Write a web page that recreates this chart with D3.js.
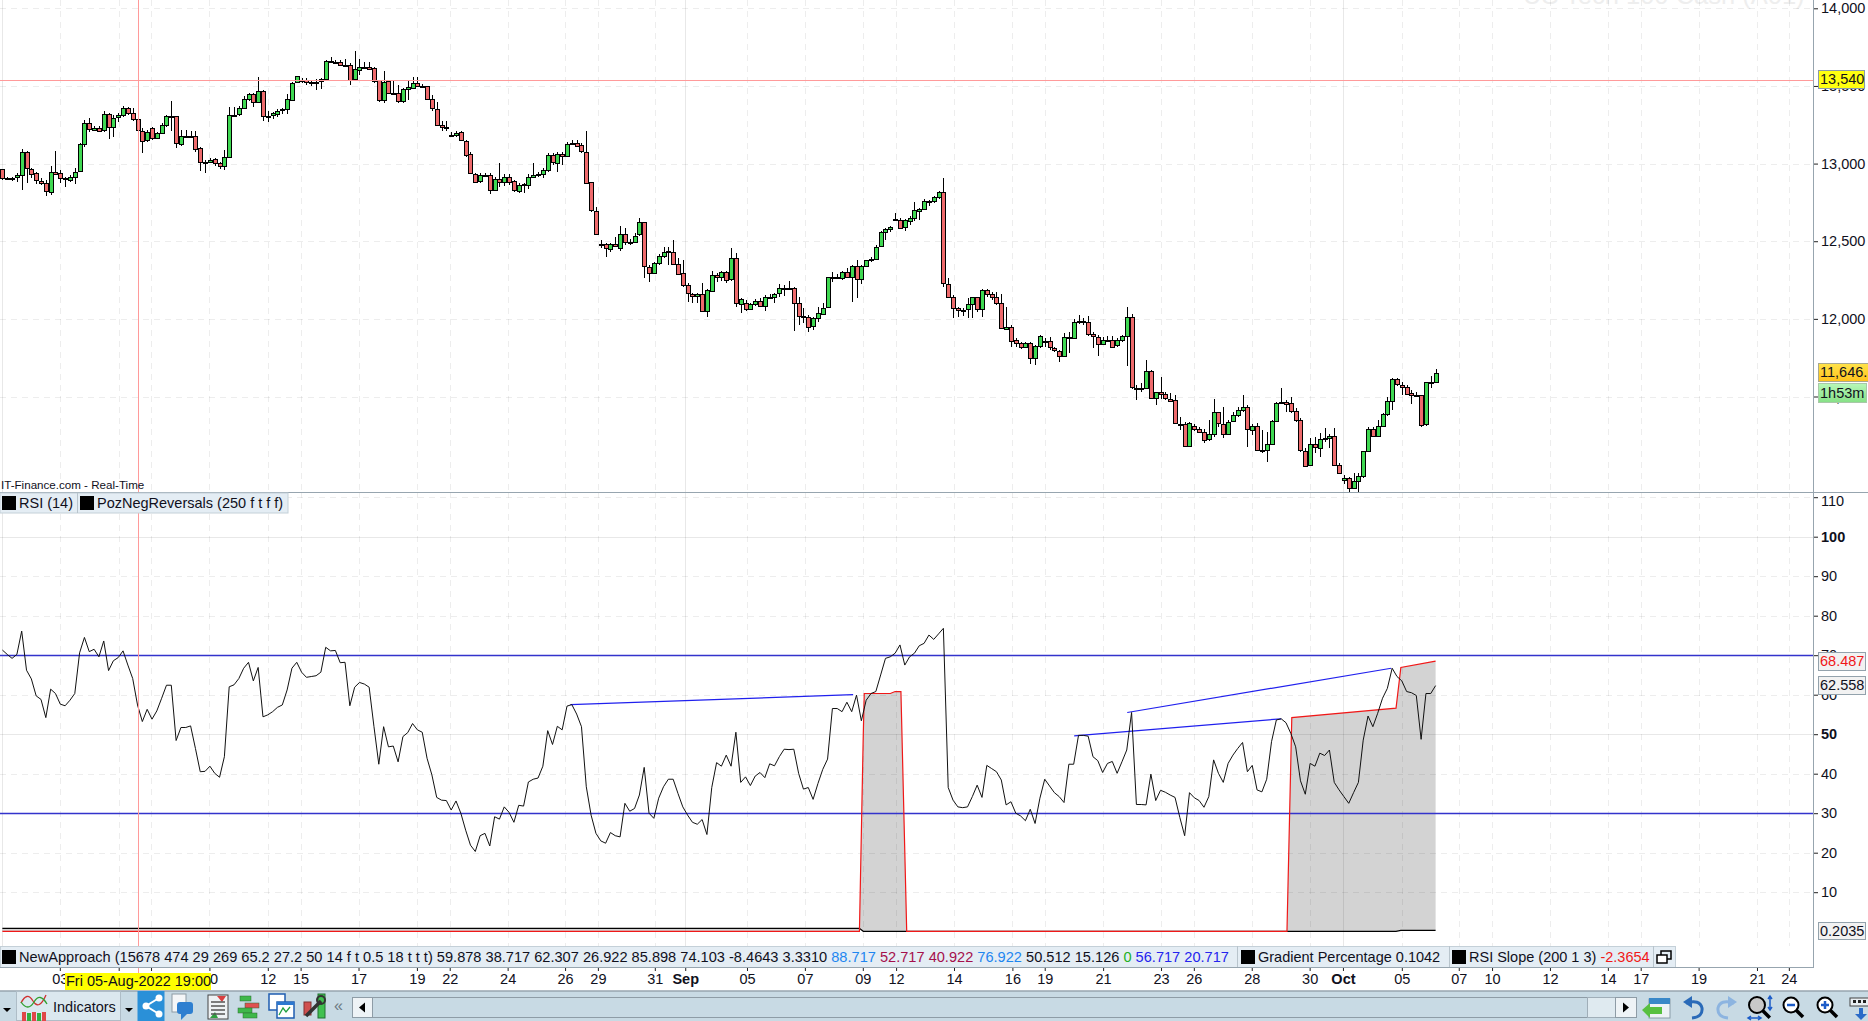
<!DOCTYPE html>
<html>
<head>
<meta charset="utf-8">
<script src="https://cdnjs.cloudflare.com/ajax/libs/d3/7.8.5/d3.min.js"></script>
<style>
  html, body { margin: 0; padding: 0; background: #fff; overflow: hidden; }
  svg { display: block; font-family: "Liberation Sans", Arial, sans-serif; }
  text { fill: #10101c; }
  .axis path { display: none; }
  .axis line { stroke: #222; }
  .grid { stroke: rgba(0,0,0,0.07); stroke-width: 1; stroke-dasharray: 6,5; shape-rendering: crispEdges; }
  .grid.solid { stroke-dasharray: none; stroke: rgba(0,0,0,0.09); }
</style>
</head>
<body>
<svg width="1868" height="1021"></svg>
<script>
// one value per hourly bar
const opens = [12963,12905,12909,12909,12924,13072,12967,12937,12890,12877,12821,12948,12937,12905,12898,12916,12948,13124,13259,13220,13231,13216,13317,13231,13298,13311,13356,13324,13285,13212,13147,13227,13162,13195,13246,13304,13304,13130,13180,13180,13180,13098,13008,13012,13027,13001,12982,13040,13311,13317,13356,13414,13446,13394,13465,13304,13311,13324,13341,13349,13414,13523,13540,13536,13525,13523,13527,13543,13658,13654,13656,13635,13637,13543,13607,13624,13624,13613,13536,13407,13530,13452,13452,13399,13478,13491,13521,13502,13497,13414,13351,13246,13233,13180,13184,13201,13147,13059,12935,12885,12924,12928,12834,12903,12885,12916,12885,12828,12864,12864,12916,12928,12933,12956,13053,13008,13064,13051,13128,13135,13117,13077,12879,12697,12484,12480,12454,12484,
  12454,12544,12492,12497,12544,12621,12336,12299,12361,12406,12432,12432,12355,12293,12215,12162,12147,12157,12048,12183,12284,12269,12303,12254,12389,12099,12104,12067,12099,12117,12086,12142,12140,12162,12196,12192,12196,12099,12016,12013,11951,12003,12035,12071,12267,12267,12260,12299,12269,12338,12254,12338,12376,12383,12464,12557,12576,12638,12638,12589,12634,12647,12698,12709,12761,12759,12782,12814,12222,12138,12067,12054,12059,12093,12138,12059,12183,12157,12138,12099,11938,11949,11861,11842,11816,11842,11745,11822,11857,11855,11810,11790,11758,11880,11880,11981,11983,11979,11900,11885,11842,11867,11867,11827,11861,11887,12009,11556,11552,11554,11661,11487,11526,11513,11487,
  11475,11325,11322,11181,11312,11290,11273,11224,11256,11398,11325,11262,11338,11378,11410,11432,11284,11310,11155,11151,11192,11340,11456,11466,11456,11406,11346,11151,11056,11192,11172,11228,11232,11245,11056,10960,10973,10908,10953,10985,11146,11288,11243,11307,11385,11468,11610,11576,11563,11520,11509,11507,11318,11591,11591];
const closes = [12905,12909,12909,12924,13072,12967,12937,12890,12877,12825,12948,12937,12905,12896,12916,12948,13124,13259,13220,13231,13214,13317,13231,13291,13311,13356,13324,13285,13212,13147,13201,13162,13195,13246,13304,13304,13130,13180,13180,13180,13098,13008,13012,13025,13001,12982,13040,13311,13315,13356,13414,13446,13394,13465,13304,13309,13324,13341,13349,13414,13521,13562,13536,13525,13523,13527,13543,13658,13654,13656,13635,13637,13543,13607,13624,13622,13613,13527,13407,13523,13452,13454,13399,13478,13491,13521,13504,13497,13414,13354,13246,13233,13235,13184,13199,13147,13059,12935,12885,12924,12928,12832,12903,12885,12916,12885,12828,12864,12866,12916,12928,12933,12956,13053,13008,13064,13051,13128,13135,13117,13077,12877,12697,12551,12480,12454,12484,12469,
  12544,12492,12497,12535,12621,12336,12299,12361,12406,12432,12434,12355,12293,12215,12162,12147,12157,12048,12183,12284,12269,12303,12254,12389,12099,12129,12067,12097,12117,12086,12142,12142,12162,12196,12192,12196,12099,12016,12013,11951,12003,12035,12071,12267,12267,12260,12299,12269,12338,12254,12338,12376,12383,12460,12557,12578,12589,12640,12589,12634,12651,12698,12709,12761,12756,12782,12814,12228,12138,12067,12054,12059,12093,12138,12059,12183,12157,12138,12099,11938,11949,11861,11842,11816,11842,11745,11822,11887,11852,11816,11797,11758,11880,11882,11981,11983,11979,11900,11885,11842,11867,11867,11820,11861,11887,12009,11556,11552,11556,11661,11487,11526,11511,11487,11475,
  11325,11320,11179,11331,11290,11273,11224,11256,11398,11325,11262,11338,11378,11410,11432,11288,11310,11155,11157,11192,11340,11456,11464,11456,11406,11346,11151,11056,11192,11172,11228,11232,11245,11056,11005,10973,10908,10953,10985,11146,11288,11243,11307,11385,11468,11610,11576,11563,11520,11509,11505,11314,11591,11591,11649];
const highs = [12963,12916,12913,12941,13092,13083,12974,12948,12905,12894,12984,13081,12958,12916,12926,12969,13130,13281,13291,13242,13242,13336,13324,13313,13324,13371,13362,13356,13313,13227,13216,13238,13205,13263,13313,13401,13304,13216,13216,13210,13212,13109,13023,13034,13034,13012,13087,13362,13362,13371,13435,13457,13457,13555,13474,13339,13334,13351,13356,13448,13527,13564,13553,13551,13538,13543,13549,13667,13684,13667,13667,13671,13646,13725,13671,13656,13652,13624,13538,13596,13538,13538,13506,13485,13538,13555,13555,13512,13502,13442,13399,13276,13276,13205,13210,13210,13152,13077,12941,12937,12941,12937,12916,13001,12931,12933,12894,12873,12877,12931,13001,12948,12969,13070,13070,13077,13077,13141,13152,13152,13130,13210,12883,12718,12508,12490,12490,12525,
  12597,12582,12512,12555,12647,12625,12346,12368,12417,12460,12460,12507,12389,12378,12228,12168,12168,12228,12190,12310,12297,12310,12310,12454,12426,12136,12121,12104,12127,12132,12153,12160,12168,12222,12217,12241,12202,12138,12067,12024,12013,12078,12099,12271,12303,12288,12308,12325,12346,12378,12346,12378,12396,12475,12565,12587,12597,12679,12647,12643,12662,12754,12716,12769,12765,12791,12825,12905,12260,12153,12074,12067,12132,12142,12142,12190,12190,12175,12175,12157,12078,11960,11874,11852,11852,11852,11831,11895,11874,11885,11820,11799,11910,11917,11996,12024,12003,12020,11917,11895,11880,11889,11889,11874,11895,12074,12031,11573,11584,11734,11670,11530,11627,11530,11520,
  11509,11365,11338,11338,11322,11305,11288,11348,11481,11402,11434,11348,11402,11434,11509,11445,11322,11327,11284,11273,11348,11466,11552,11477,11499,11423,11359,11166,11230,11241,11262,11299,11258,11299,11069,10994,10979,11005,11009,11151,11305,11305,11348,11391,11499,11617,11621,11595,11574,11541,11531,11509,11595,11632,11675];
const lows = [12894,12894,12888,12883,12830,12877,12905,12868,12862,12793,12797,12937,12877,12851,12883,12868,12944,13109,13205,13210,13205,13205,13158,13173,13270,13302,13313,13276,13087,13070,13141,13152,13156,13190,13238,13212,13102,13113,13173,13169,13077,12954,12941,13001,12984,12963,12959,13034,13302,13306,13349,13405,13366,13388,13276,13270,13285,13302,13319,13319,13409,13517,13521,13508,13500,13474,13478,13538,13646,13646,13628,13630,13508,13538,13570,13613,13607,13517,13399,13388,13446,13446,13392,13388,13409,13485,13491,13491,13409,13341,13242,13212,13212,13169,13173,13143,13044,12933,12873,12877,12916,12804,12830,12851,12855,12862,12817,12813,12813,12836,12905,12916,12905,12948,12991,12948,12991,13044,13120,13109,13066,12873,12690,12546,12454,12396,12433,12460,
  12439,12475,12475,12486,12533,12260,12239,12293,12346,12389,12346,12346,12282,12207,12108,12104,12099,12044,12013,12179,12239,12245,12228,12245,12078,12035,12052,12056,12082,12074,12052,12132,12104,12142,12149,12185,11923,11960,11971,11917,11928,11981,12031,12067,12239,12254,12250,12260,12110,12132,12224,12331,12368,12378,12460,12507,12561,12632,12582,12567,12604,12632,12636,12705,12726,12748,12769,12207,12132,12003,12013,12020,12003,12003,12046,12013,12142,12121,12089,11934,11938,11820,11820,11805,11810,11709,11706,11810,11820,11799,11788,11722,11752,11777,11874,11966,11960,11891,11810,11762,11831,11859,11816,11820,11852,11696,11550,11477,11530,11550,11481,11445,11487,11477,11466,
  11322,11284,11172,11176,11280,11262,11198,11215,11241,11305,11230,11252,11333,11370,11402,11176,11252,11151,11134,11080,11187,11333,11451,11402,11395,11338,11144,11043,11052,11134,11112,11209,11166,11052,10998,10936,10887,10904,10887,10973,11142,11237,11237,11301,11374,11413,11567,11509,11509,11451,11499,11305,11310,11552,11584];

const rsi = [71.3,70.2,69.2,70.2,76.1,66.2,64.0,59.7,58.8,54.2,61.4,60.3,57.6,57.2,58.6,60.3,70.6,74.5,70.9,71.5,69.6,73.6,66.1,68.6,69.4,71.1,67.5,64.1,57.4,53.2,56.3,53.8,55.9,59.1,62.4,62.4,48.4,51.7,51.7,52.1,46.4,40.5,40.6,41.9,40.1,39.1,44.3,62.0,62.5,64.1,66.7,68.2,63.5,66.9,54.4,54.9,55.7,56.8,57.4,61.2,66.7,68.2,65.7,64.4,64.6,64.8,65.7,72.0,71.1,71.2,68.1,68.2,57.2,61.9,63.1,62.7,61.9,51.9,42.4,51.9,46.8,47.0,43.0,49.4,50.4,52.7,51.1,50.5,43.9,39.7,34.0,33.3,33.2,30.8,33.1,30.0,25.7,21.9,20.3,24.3,24.9,21.7,29.1,28.5,31.6,30.2,27.7,32.0,31.8,37.9,38.6,38.9,41.9,50.9,47.4,52.0,51.1,57.1,57.5,55.1,51.9,36.7,29.5,24.9,23.0,22.4,25.1,24.3,
  24.0,32.5,30.5,31.2,34.6,41.6,30.0,28.7,33.8,36.7,38.6,38.6,35.0,31.6,29.5,27.7,27.2,28.4,24.6,36.5,42.8,41.9,44.7,41.9,50.5,37.8,39.2,37.0,39.4,40.3,39.0,42.5,42.0,44.3,46.2,46.1,46.2,40.1,36.1,36.5,33.5,37.5,41.1,43.7,56.5,56.5,55.7,58.1,55.7,59.9,53.4,58.6,60.3,60.8,65.0,69.2,69.6,70.5,72.6,67.5,69.6,70.5,72.4,73.0,75.1,74.0,75.4,76.8,36.5,33.3,31.6,31.4,31.6,34.2,37.1,34.0,42.1,41.3,40.5,38.4,32.1,32.9,30.0,29.3,28.1,31.0,27.4,33.8,38.6,36.9,35.2,34.2,32.7,42.4,42.4,49.7,49.7,49.5,44.3,43.3,40.3,42.6,43.1,40.1,43.0,46.0,55.5,32.2,32.2,32.1,39.9,33.2,35.8,35.3,34.6,34.0,28.9,24.3,35.2,33.9,33.2,31.5,34.2,43.5,40.1,37.8,42.6,44.7,46.4,
  47.9,40.5,42.1,35.9,35.4,38.6,48.1,53.6,53.9,52.9,50.2,46.8,38.2,34.8,42.6,41.9,45.2,44.6,46.0,37.8,35.9,34.2,32.5,35.2,37.8,48.5,54.6,51.9,55.3,59.1,61.6,66.7,64.6,63.5,60.8,60.5,59.8,48.7,60.3,60.3,62.3];

// PozNegReversals band, corners as read
const bandBars = [0,177.6,178.4,178.6,184,185,186.2,187.4,266.2,267.2,288.8,289.8,297];
const bandUpper = [0.1,0.1,50,60.3,60.3,60.8,60.8,0.1,0.1,54.2,56.6,66.9,68.5];
const bandLower = [0.85,0.85,0.1,0.1,0.1,0.1,0.1,0.1,0.1,0.1,0.1,0.35,0.35];

// divergence segments on the RSI
const divStartBars = [117.7,222.1,233.1];
const divStartValues = [57.5,49.6,55.5];
const divEndBars = [176.3,265,287.8];
const divEndValues = [60,53.9,66.7];

const priceTicks = [14000,13500,13000,12500,12000,11500];
const rsiTicks = [110,100,90,80,70,60,50,40,30,20,10];
const rsiBold = [100,50];
const rsiLevels = [70,30];

const dateBars = [11.9,24.1,30.8,42.9,55,61.8,73.8,85.9,92.7,104.7,116.6,123.4,135.2,141.5,154.3,166.3,178.3,185.2,197.2,209.3,216,228.1,240.1,246.9,258.9,270.9,277.8,290,301.8,308.7,320.7,332.7,339.5,351.5,363.6,370.2];
const dateLabels = ["03","05","08","10","12","15","17","19","22","24","26","29","31","Sep","05","07","09","12","14","16","19","21","23","26","28","30","Oct","05","07","10","12","14","17","19","21","24"];
const monthLabels = ["Sep","Oct"];
const solidBars = [0,141.5,277.8];
const crosshairBar = 28;
const crosshairPrice = 13540;

const svg = d3.select("svg");
const width = +svg.attr("width");

const axisX = 1813;
const pane1 = { top: 0, bottom: 492 };
const pane2 = { top: 492, bottom: 946 };
const rowTop = 946, axisRow = 967, toolbarTop = 991;

const xScale = d3.scaleLinear().domain([0, opens.length - 1]).range([2.4, 1435.6]);
const yPrice = d3.scaleLinear().domain([11500, 14000]).range([396.5, 8.3]);
const yRsi = d3.scaleLinear().domain([0, 100]).range([931.7, 536.7]);

const fontSize = 14.5;
const green = "#3fd852", red = "#ee6a6c";

// grid comes after the grey band so it shows through
const band = d3.area()
  .x(d => xScale(d.bar))
  .y0(d => yRsi(d.lower))
  .y1(d => yRsi(d.upper));
const bandData = bandBars.map((bar, i) => ({ bar, upper: bandUpper[i], lower: bandLower[i] }));

svg.append("path").attr("d", band(bandData)).attr("fill", "#d3d3d3");

// watermark, cut by the top edge
svg.append("text")
  .attr("x", 1523).attr("y", 4)
  .attr("font-size", 25.5)
  .style("fill", "#eeeeee")
  .text("US Tech 100 Cash (A01)");

// grid
const gridG = svg.append("g");
const inRange = (bar) => !solidBars.includes(bar);
[pane1, pane2].forEach(p => {
  gridG.selectAll(null)
    .data(dateBars.filter(inRange).filter(b => xScale(b) < axisX))
    .enter().append("line")
    .attr("class", "grid")
    .attr("x1", d => Math.round(xScale(d)) + 0.5)
    .attr("x2", d => Math.round(xScale(d)) + 0.5)
    .attr("y1", p.top).attr("y2", p.bottom);
  gridG.selectAll(null)
    .data(solidBars)
    .enter().append("line")
    .attr("class", "grid solid")
    .attr("x1", d => Math.round(xScale(d)) + 0.5)
    .attr("x2", d => Math.round(xScale(d)) + 0.5)
    .attr("y1", p.top).attr("y2", p.bottom);
});
gridG.selectAll(null).data(priceTicks).enter().append("line")
  .attr("class", "grid")
  .attr("x1", 0).attr("x2", axisX)
  .attr("y1", d => Math.round(yPrice(d)) + 0.5)
  .attr("y2", d => Math.round(yPrice(d)) + 0.5);
gridG.selectAll(null).data(rsiTicks).enter().append("line")
  .attr("class", d => rsiBold.includes(d) ? "grid solid" : "grid")
  .attr("x1", 0).attr("x2", axisX)
  .attr("y1", d => Math.round(yRsi(d)) + 0.5)
  .attr("y2", d => Math.round(yRsi(d)) + 0.5);

// candles
const clip = svg.append("clipPath").attr("id", "pricePane");
clip.append("rect").attr("x", 0).attr("y", 0).attr("width", axisX).attr("height", pane1.bottom);

const candles = svg.append("g").attr("clip-path", "url(#pricePane)")
  .selectAll("g")
  .data(opens.map((o, i) => ({ i, o, c: closes[i], h: highs[i], l: lows[i] })))
  .enter().append("g");

candles.append("line")
  .attr("x1", d => Math.round(xScale(d.i)) + 0.5)
  .attr("x2", d => Math.round(xScale(d.i)) + 0.5)
  .attr("y1", d => yPrice(d.h))
  .attr("y2", d => yPrice(d.l))
  .attr("stroke", "#000")
  .attr("shape-rendering", "crispEdges");

candles.append("rect")
  .attr("x", d => Math.round(xScale(d.i)) - 1.5)
  .attr("width", 4)
  .attr("y", d => Math.round(yPrice(Math.max(d.o, d.c))) + 0.5)
  .attr("height", d => Math.max(1, Math.round(Math.abs(yPrice(d.o) - yPrice(d.c)))))
  .attr("fill", d => d.c >= d.o ? green : red)
  .attr("stroke", "#000")
  .attr("stroke-width", 1)
  .attr("shape-rendering", "crispEdges");

// RSI levels
svg.selectAll(null).data(rsiLevels).enter().append("line")
  .attr("x1", 0).attr("x2", axisX)
  .attr("y1", d => Math.round(yRsi(d)) + 0.5)
  .attr("y2", d => Math.round(yRsi(d)) + 0.5)
  .attr("stroke", "#3333cc").attr("stroke-width", 1.3);

// band outlines
const upperLine = d3.line().x(d => xScale(d.bar)).y(d => yRsi(d.upper));
const lowerLine = d3.line().x(d => xScale(d.bar)).y(d => yRsi(d.lower));
svg.append("path").attr("d", lowerLine(bandData)).attr("fill", "none").attr("stroke", "#000").attr("stroke-width", 1.2);
svg.append("path").attr("d", upperLine(bandData)).attr("fill", "none").attr("stroke", "#f01818").attr("stroke-width", 1.2);

// divergences
svg.selectAll(null).data(divStartBars).enter().append("line")
  .attr("x1", d => xScale(d))
  .attr("y1", (d, i) => yRsi(divStartValues[i]))
  .attr("x2", (d, i) => xScale(divEndBars[i]))
  .attr("y2", (d, i) => yRsi(divEndValues[i]))
  .attr("stroke", "#2020ee").attr("stroke-width", 1.2);

// RSI line
const rsiLine = d3.line().x((d, i) => xScale(i)).y(d => yRsi(d));
svg.append("path").attr("d", rsiLine(rsi)).attr("fill", "none").attr("stroke", "#111").attr("stroke-width", 1);

// crosshair
svg.append("line")
  .attr("x1", 0).attr("x2", axisX)
  .attr("y1", Math.round(yPrice(crosshairPrice)) + 0.5)
  .attr("y2", Math.round(yPrice(crosshairPrice)) + 0.5)
  .attr("stroke", "#ff9a9a");
svg.append("line")
  .attr("x1", Math.round(xScale(crosshairBar)) + 0.5)
  .attr("x2", Math.round(xScale(crosshairBar)) + 0.5)
  .attr("y1", 0).attr("y2", axisRow + 6)
  .attr("stroke", "#ff9a9a");

// right axes
const priceAxis = d3.axisRight(yPrice)
  .tickValues(priceTicks)
  .tickSize(5).tickPadding(3)
  .tickFormat(d3.format(","));
const priceAxisG = svg.append("g").attr("class", "axis")
  .attr("transform", `translate(${axisX},0)`).call(priceAxis);
priceAxisG.selectAll("text").attr("font-size", fontSize);

const rsiAxis = d3.axisRight(yRsi)
  .tickValues(rsiTicks)
  .tickSize(5).tickPadding(3);
const rsiAxisG = svg.append("g").attr("class", "axis")
  .attr("transform", `translate(${axisX},0)`).call(rsiAxis);
rsiAxisG.selectAll("text")
  .attr("font-size", fontSize)
  .attr("font-weight", d => rsiBold.includes(d) ? "bold" : null)
  .attr("y", d => d === 110 ? 4 : null);

// IT-Finance line at the bottom of the price pane
svg.append("text").attr("x", 1).attr("y", 489).attr("font-size", 11.6).text("IT-Finance.com - Real-Time");

// pane frames
const frame = "#97a5af";
svg.append("line").attr("x1", 0).attr("x2", width).attr("y1", 492.5).attr("y2", 492.5).attr("stroke", frame);
svg.append("line").attr("x1", axisX + 0.5).attr("x2", axisX + 0.5).attr("y1", 0).attr("y2", axisRow).attr("stroke", frame);

// indicator legends
const legendFill = "#e4edf4";
const square = (x, y) => svg.append("rect").attr("x", x).attr("y", y).attr("width", 14).attr("height", 14).attr("fill", "#000");

svg.append("rect").attr("x", 0).attr("y", 493).attr("width", 288).attr("height", 20).attr("fill", legendFill).attr("stroke", "#c4d0d8");
svg.append("line").attr("x1", 77.5).attr("x2", 77.5).attr("y1", 493).attr("y2", 513).attr("stroke", "#b8c4cc");
square(2, 496); square(80, 496);
svg.append("text").attr("x", 19).attr("y", 508).attr("font-size", fontSize).text("RSI (14)");
svg.append("text").attr("x", 97).attr("y", 508).attr("font-size", fontSize).text("PozNegReversals (250 f t f f)");

// lower legend row
svg.append("rect").attr("x", 0).attr("y", rowTop).attr("width", axisX).attr("height", axisRow - rowTop).attr("fill", "#fff");
svg.append("rect").attr("x", 0.5).attr("y", rowTop + 0.5).attr("width", 1675).attr("height", axisRow - rowTop).attr("fill", legendFill).attr("stroke", "#c4d0d8");
square(2, rowTop + 4); square(1241, rowTop + 4); square(1452, rowTop + 4);
[1237.5, 1449.5, 1653.5].forEach(x => svg.append("line").attr("x1", x).attr("x2", x).attr("y1", rowTop).attr("y2", axisRow).attr("stroke", "#b8c4cc"));

const legendParts = [
  ["NewApproach (15678 474 29 269 65.2 27.2 50 14 f t 0.5 18 t t t) 59.878 38.717 62.307 26.922 85.898 74.103 -8.4643 3.3310 ", "#10101c"],
  ["88.717 ", "#1e86f0"],
  ["52.717 40.922 ", "#a5104c"],
  ["76.922 ", "#1e86f0"],
  ["50.512 15.126 ", "#10101c"],
  ["0 ", "#22b022"],
  ["56.717 20.717", "#2424ee"]
];
const legendText = svg.append("text").attr("x", 19).attr("y", rowTop + 16).attr("font-size", 14.6).attr("xml:space", "preserve").style("white-space", "pre");
legendParts.forEach(p => legendText.append("tspan").style("fill", p[1]).text(p[0]));
svg.append("text").attr("x", 1258).attr("y", rowTop + 16).attr("font-size", fontSize).text("Gradient Percentage 0.1042");
const slopeText = svg.append("text").attr("x", 1469).attr("y", rowTop + 16).attr("font-size", fontSize).style("white-space", "pre");
slopeText.append("tspan").text("RSI Slope (200 1 3) ");
slopeText.append("tspan").style("fill", "#f01818").text("-2.3654");
// little restore icon
svg.append("rect").attr("x", 1661).attr("y", rowTop + 5).attr("width", 10).attr("height", 8).attr("fill", "#e4edf4").attr("stroke", "#000").attr("stroke-width", 1.5);
svg.append("rect").attr("x", 1657).attr("y", rowTop + 9).attr("width", 10).attr("height", 8).attr("fill", "#fff").attr("stroke", "#000").attr("stroke-width", 1.5);

// bottom date axis
const dateAxis = d3.axisBottom(xScale)
  .tickValues(dateBars)
  .tickSize(4).tickPadding(3)
  .tickFormat((d, i) => dateLabels[i]);
const dateAxisG = svg.append("g").attr("class", "axis")
  .attr("transform", `translate(0,${axisRow})`).call(dateAxis);
dateAxisG.selectAll("line").attr("stroke", "#97a5af");
dateAxisG.selectAll("text")
  .attr("font-size", fontSize)
  .attr("font-weight", (d, i) => monthLabels.includes(dateLabels[i]) ? "bold" : null);
svg.append("line").attr("x1", 0).attr("x2", axisX + 1).attr("y1", axisRow + 0.5).attr("y2", axisRow + 0.5).attr("stroke", frame);

// value tags on the right
const tag = (y0, y1, x1, fill, colour, label, weightStroke) => {
  svg.append("rect")
    .attr("x", 1818.5).attr("y", y0 + 0.5)
    .attr("width", x1 - 1818).attr("height", y1 - y0)
    .attr("fill", fill).attr("stroke", weightStroke);
  svg.append("text")
    .attr("x", 1820).attr("y", (y0 + y1) / 2 + 5.3)
    .attr("font-size", fontSize)
    .style("fill", colour)
    .text(label);
};
const defs = svg.append("defs");
const grad = (id, a, b) => {
  const g = defs.append("linearGradient").attr("id", id).attr("x1", 0).attr("x2", 0).attr("y1", 0).attr("y2", 1);
  g.append("stop").attr("offset", 0).attr("stop-color", a);
  g.append("stop").attr("offset", 1).attr("stop-color", b);
};
grad("gold", "#ffe34a", "#ffc21c");
grad("mint", "#b8f8b8", "#86e086");
tag(70, 88, 1864, "#ffff10", "#10101c", "13,540", "#8a9aa8");
tag(363, 381, 1869, "url(#gold)", "#10101c", "11,646.", "#a8a890");
tag(383, 402, 1866, "url(#mint)", "#10101c", "1h53m", "#a8c8a8");
tag(652, 670, 1865, "#f2f2f2", "#f01818", "68.487", "#93a2ac");
tag(676, 694, 1865, "#f2f2f2", "#10101c", "62.558", "#93a2ac");
tag(922, 939, 1865, "#f2f2f2", "#10101c", "0.2035", "#93a2ac");

// date tooltip
svg.append("rect").attr("x", 65).attr("y", 973).attr("width", 146).attr("height", 17).attr("fill", "#ffff00");
svg.append("text").attr("x", 66).attr("y", 986).attr("font-size", fontSize).text("Fri 05-Aug-2022 19:00");

// toolbar
svg.append("rect").attr("x", 0).attr("y", toolbarTop).attr("width", width).attr("height", 1021 - toolbarTop).attr("fill", "#c8dae4");
svg.append("line").attr("x1", 0).attr("x2", width).attr("y1", toolbarTop).attr("y2", toolbarTop).attr("stroke", "#97a5af").attr("stroke-width", 1.5);

const tri = (x, y, dir) => {
  const pts = dir === "down" ? `${x - 4},${y} ${x + 4},${y} ${x},${y + 4}`
    : dir === "left" ? `${x + 3},${y - 5} ${x + 3},${y + 5} ${x - 3},${y}`
    : `${x - 3},${y - 5} ${x - 3},${y + 5} ${x + 3},${y}`;
  svg.append("polygon").attr("points", pts).attr("fill", "#000");
};
tri(7, 1008, "down");
tri(129, 1008, "down");
svg.append("rect").attr("x", 16.5).attr("y", 991.5).attr("width", 104).attr("height", 29).attr("fill", "#dbe8ef").attr("stroke", "#aebdc7");
svg.append("text").attr("x", 53).attr("y", 1012).attr("font-size", fontSize).text("Indicators");
// indicators icon
svg.append("path").attr("d", "M21 1003 q6 -12 12 -2 t13 -6").attr("fill", "none").attr("stroke", "#d03030").attr("stroke-width", 1.3);
svg.append("path").attr("d", "M21 1002 q7 10 13 0 t13 2").attr("fill", "none").attr("stroke", "#30a030").attr("stroke-width", 1.3);
[0, 1, 2, 3, 4].forEach(k => svg.append("rect").attr("x", 22 + k * 5).attr("y", 1012 + (k % 2) * 1).attr("width", 4).attr("height", 9).attr("fill", k % 2 ? "#30b040" : "#e04848"));

// share button
svg.append("rect").attr("x", 137.5).attr("y", 991).attr("width", 27).attr("height", 30).attr("fill", "#2a90d8");
svg.append("path").attr("d", "M159 998 L146 1006 L159 1014").attr("fill", "none").attr("stroke", "#fff").attr("stroke-width", 2);
[[159, 998], [146, 1006], [159, 1014]].forEach(c => svg.append("circle").attr("cx", c[0]).attr("cy", c[1]).attr("r", 3.5).attr("fill", "#fff"));

// comment icon
svg.append("rect").attr("x", 172).attr("y", 994).attr("width", 14).attr("height", 18).attr("fill", "#f4f6f8").attr("stroke", "#8c9aa4");
svg.append("rect").attr("x", 177).attr("y", 1002).attr("width", 16).attr("height", 12).attr("rx", 3).attr("fill", "#2e7fd0");
svg.append("path").attr("d", "M181 1014 l0 6 l6 -6 z").attr("fill", "#2e7fd0");
// report icon
svg.append("rect").attr("x", 208).attr("y", 995).attr("width", 20).attr("height", 24).attr("fill", "#eef2f4").attr("stroke", "#444");
svg.append("path").attr("d", "M217 996 l9 0 l-4 6 z").attr("fill", "#d84040");
svg.append("path").attr("d", "M210 1018 l5 -6 l3 6 z").attr("fill", "#30a040");
[1002, 1006, 1010, 1014].forEach(y => svg.append("line").attr("x1", 211).attr("x2", 225).attr("y1", y).attr("y2", y).attr("stroke", "#555").attr("stroke-width", 1.5));
// depth icon
[[240, 996, 11, "#3fb84a"], [245, 1003, 14, "#e05050"], [238, 1008, 14, "#3fb84a"], [243, 1013, 14, "#3fb84a"]].forEach(r =>
  svg.append("rect").attr("x", r[0]).attr("y", r[1]).attr("width", r[2]).attr("height", 5).attr("fill", r[3]).attr("stroke", "#2c6c30").attr("stroke-width", 0.5));
// windows icon
svg.append("rect").attr("x", 269).attr("y", 994).attr("width", 16).attr("height", 16).attr("fill", "#fff").attr("stroke", "#1e5cb0").attr("stroke-width", 1.5);
svg.append("rect").attr("x", 277).attr("y", 1002).attr("width", 17).attr("height", 16).attr("fill", "#fff").attr("stroke", "#1e5cb0").attr("stroke-width", 1.5);
svg.append("rect").attr("x", 277).attr("y", 1002).attr("width", 17).attr("height", 3).attr("fill", "#2c78d0");
svg.append("path").attr("d", "M279 1015 l4 -7 l3 4 l4 -5").attr("fill", "none").attr("stroke", "#20a040").attr("stroke-width", 1.3);
// wrench icon
svg.append("rect").attr("x", 304).attr("y", 1002).attr("width", 7).attr("height", 13).attr("fill", "#d05050").attr("stroke", "#803030");
svg.append("rect").attr("x", 318).attr("y", 994).attr("width", 7).attr("height", 24).attr("fill", "#40c050").attr("stroke", "#207030");
svg.append("path").attr("d", "M306 1016 L321 1001").attr("stroke", "#333").attr("stroke-width", 3.5);
svg.append("circle").attr("cx", 321).attr("cy", 1000).attr("r", 4).attr("fill", "none").attr("stroke", "#333").attr("stroke-width", 2);

svg.append("text").attr("x", 334).attr("y", 1011).attr("font-size", 16).style("fill", "#6c7a84").text("«");

// scrollbar
svg.append("rect").attr("x", 352.5).attr("y", 997.5).attr("width", 1284).attr("height", 20).attr("fill", "#c8dae4").attr("stroke", "#8e9ca6");
svg.append("rect").attr("x", 352.5).attr("y", 997.5).attr("width", 20).attr("height", 20).attr("fill", "#eef3f6").attr("stroke", "#8e9ca6");
svg.append("rect").attr("x", 1587.5).attr("y", 997.5).attr("width", 28).attr("height", 20).attr("fill", "#dfeaf0").attr("stroke", "#a0aeb8");
svg.append("rect").attr("x", 1615.5).attr("y", 997.5).attr("width", 21).attr("height", 20).attr("fill", "#eef3f6").attr("stroke", "#8e9ca6");
tri(362, 1007.5, "left");
tri(1626, 1007.5, "right");

// calendar
svg.append("rect").attr("x", 1649).attr("y", 999).attr("width", 21).attr("height", 19).attr("fill", "#eef2f6").attr("stroke", "#8a9ca8");
svg.append("rect").attr("x", 1649).attr("y", 998).attr("width", 21).attr("height", 6).attr("fill", "#3a88c8");
svg.append("path").attr("d", "M1642 1010 l8 -7 l0 4 l12 0 l0 7 l-12 0 l0 4 z").attr("fill", "#58c040");
// undo / redo
svg.append("path").attr("d", "M1686 1003 q14 -4 16 5 q1 9 -10 10").attr("fill", "none").attr("stroke", "#2a6ab8").attr("stroke-width", 3);
svg.append("path").attr("d", "M1683 1002 l9 -6 l0 12 z").attr("fill", "#2a6ab8");
svg.append("path").attr("d", "M1734 1003 q-14 -4 -16 5 q-1 9 10 10").attr("fill", "none").attr("stroke", "#8cb4e0").attr("stroke-width", 3);
svg.append("path").attr("d", "M1737 1002 l-9 -6 l0 12 z").attr("fill", "#8cb4e0");
// zoom icons
const lens = (cx, cy, r, fill) => {
  svg.append("line").attr("x1", cx + r * 0.7).attr("y1", cy + r * 0.7).attr("x2", cx + r * 1.6).attr("y2", cy + r * 1.6).attr("stroke", "#000").attr("stroke-width", 3.5);
  svg.append("circle").attr("cx", cx).attr("cy", cy).attr("r", r).attr("fill", fill).attr("stroke", "#000").attr("stroke-width", 2);
};
lens(1757, 1005, 8, "#c8c8c8");
svg.append("path").attr("d", "M1770 997 l0 12 M1768 999 l2 -3 l2 3 M1768 1007 l2 3 l2 -3").attr("fill", "none").attr("stroke", "#1c5cc8").attr("stroke-width", 1.5);
svg.append("path").attr("d", "M1749 1018 l11 0 M1751 1016 l-3 2 l3 2 M1758 1016 l3 2 l-3 2").attr("fill", "none").attr("stroke", "#1c5cc8").attr("stroke-width", 1.5);
lens(1791, 1005, 7.5, "#fff");
svg.append("line").attr("x1", 1787).attr("x2", 1795).attr("y1", 1005).attr("y2", 1005).attr("stroke", "#1c5cc8").attr("stroke-width", 2.5);
lens(1825, 1005, 7.5, "#fff");
svg.append("path").attr("d", "M1821 1005 l8 0 M1825 1001 l0 8").attr("stroke", "#1c5cc8").attr("stroke-width", 2.5);
// panel menu
svg.append("rect").attr("x", 1850).attr("y", 998).attr("width", 20).attr("height", 8).attr("fill", "#e8eef2").attr("stroke", "#444");
[1853, 1858, 1863].forEach(x => svg.append("rect").attr("x", x).attr("y", 1000).attr("width", 3).attr("height", 3).attr("fill", "#222"));
svg.append("path").attr("d", "M1859 1008 l0 6 l-4 0 l6 6 l6 -6 l-4 0 l0 -6 z").attr("fill", "#2a6ac8");
</script>
</body>
</html>
